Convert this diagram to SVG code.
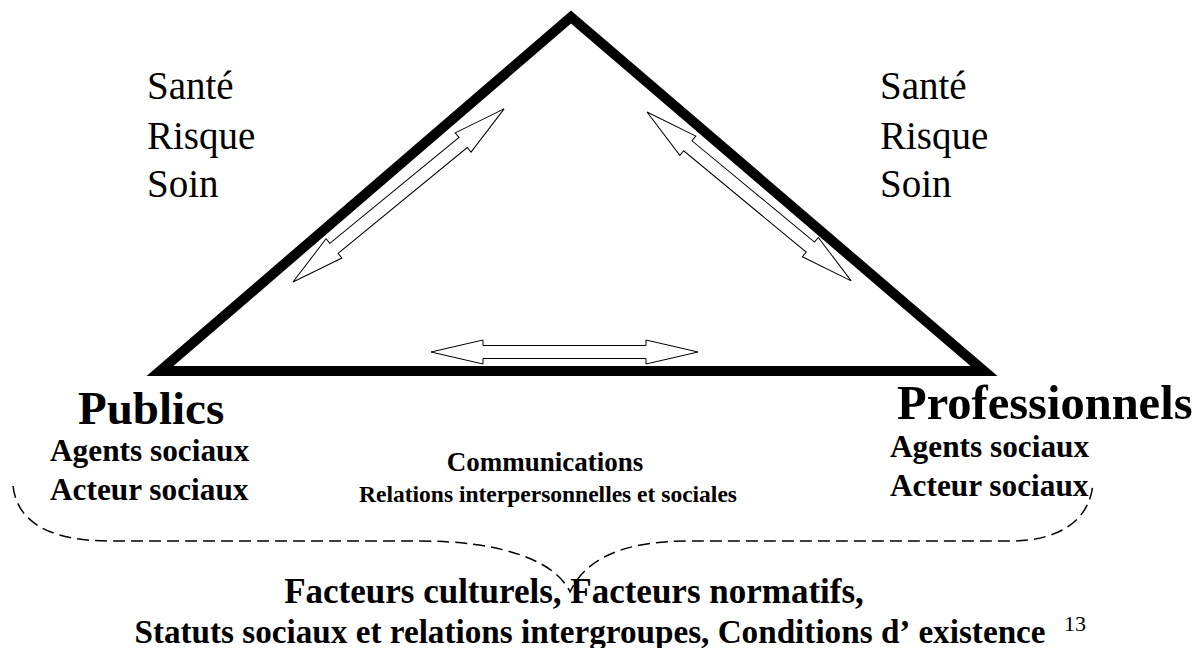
<svg xmlns="http://www.w3.org/2000/svg" width="1203" height="648" viewBox="0 0 1203 648">
<style>
.serif{font-family:"Liberation Serif","Times New Roman",serif;fill:#000}
.b{font-weight:bold}
.arrow{fill:#fff;stroke:#000;stroke-width:1;stroke-linejoin:miter}
.brace{fill:none;stroke:#000;stroke-width:1.5;stroke-dasharray:12 6}
</style>
<rect width="1203" height="648" fill="#fff"/>
<g id="triangle">
<polygon points="160,371 571,17 984,371" fill="none" stroke="#000" stroke-width="10" stroke-linejoin="miter" stroke-miterlimit="10"/>
</g>
<g id="connectors">
<polygon class="arrow" transform="translate(293,282) rotate(-39.35)" points="0,0 53,-12.5 53,-6.5 220,-6.5 220,-12.5 273,0 220,12.5 220,6.5 53,6.5 53,12.5"/>
<polygon class="arrow" transform="translate(647,112) rotate(39.6)" points="0,0 53,-12.5 53,-6.5 212,-6.5 212,-12.5 265,0 212,12.5 212,6.5 53,6.5 53,12.5"/>
<polygon class="arrow" transform="translate(431,352)" points="0,0 52,-12 52,-6.5 215,-6.5 215,-12 267,0 215,12 215,6.5 52,6.5 52,12"/>
<path class="brace" d="M 13 486 C 18 528 60 541 110 541 L 420 541 C 500 541 555 560 570 592 C 585 560 620 541 690 541 L 1010 541 C 1060 541 1090 520 1093 483"/>
</g>
<g id="left-themes" class="serif" font-size="39">
<text x="147" y="99">Santé</text>
<text x="147" y="149">Risque</text>
<text x="147" y="197">Soin</text>
</g>
<g id="right-themes" class="serif" font-size="39">
<text x="880" y="99">Santé</text>
<text x="880" y="149">Risque</text>
<text x="880" y="197">Soin</text>
</g>
<g id="publics" class="serif b">
<text x="78" y="424" font-size="47">Publics</text>
<text x="50" y="461" font-size="31.3">Agents sociaux</text>
<text x="50" y="500" font-size="31.3">Acteur sociaux</text>
</g>
<g id="professionnels" class="serif b">
<text x="897" y="419" font-size="48.5">Professionnels</text>
<text x="890" y="457" font-size="31.3">Agents sociaux</text>
<text x="890" y="496" font-size="31.3">Acteur sociaux</text>
</g>
<g id="communications" class="serif b" text-anchor="middle">
<text x="545" y="471" font-size="27">Communications</text>
<text x="548" y="502" font-size="23.5">Relations interpersonnelles et sociales</text>
</g>
<g id="facteurs" class="serif b" text-anchor="middle">
<text x="574" y="603" font-size="35">Facteurs culturels, Facteurs normatifs,</text>
<text x="590" y="643" font-size="33.2">Statuts sociaux et relations intergroupes, Conditions d’<tspan dx="8">existence</tspan></text>
</g>
<g id="page-number">
<text class="serif" x="1064" y="631" font-size="22">13</text>
</g>
</svg>
